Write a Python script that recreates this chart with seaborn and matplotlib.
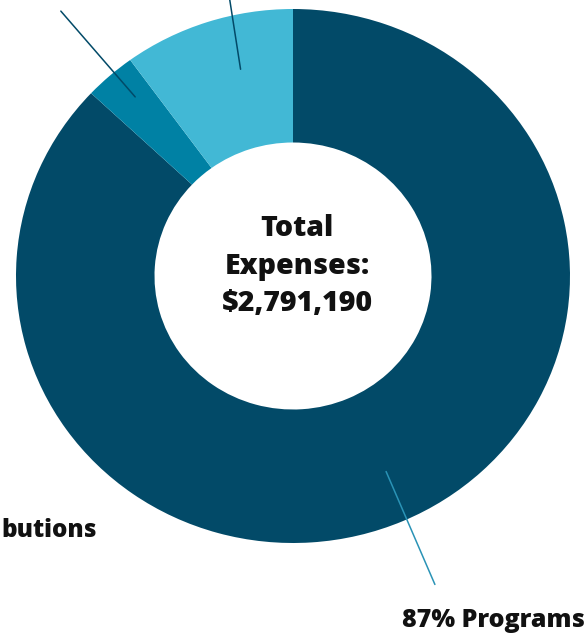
import matplotlib
matplotlib.use("Agg")
import matplotlib.pyplot as plt
import seaborn as sns

# ---- data ----
categories = ["Programs", "Fundraising", "Administration"]
values = [87, 3, 10]
colors = ["#024a68", "#0081a4", "#42b8d5"]
center_lines = ["Total", "Expenses:", "$2,791,190"]
programs_label = "87% Programs"
contrib_label = "butions"

sns.set_theme(style="white")
plt.rcParams["font.family"] = ["Open Sans", "DejaVu Sans"]

W, H = 588, 633
fig = plt.figure(figsize=(W / 100, H / 100), dpi=100)
ax = fig.add_axes([0, 0, 1, 1])

cx, cy = 293, 276          # pixel centre (y from top)
rx, ry = 277, 267          # pixel radii (slightly stretched)
ax.pie(values, colors=colors, startangle=90, counterclock=False,
       radius=1, center=(0, 0),
       wedgeprops=dict(width=0.5, edgecolor="none", linewidth=0))
ax.set_xlim(-cx / rx, (W - cx) / rx)
ax.set_ylim(-(H - cy) / ry, cy / ry)
ax.set_aspect("auto")
ax.axis("off")

def px(x, y):
    return (x, H - y)

navy = "#024a68"
ax.annotate("", xy=px(385, 469), xycoords="figure pixels",
            xytext=px(436, 587), textcoords="figure pixels",
            arrowprops=dict(arrowstyle="-", color="#2a93b6", lw=1.1))
ax.annotate("", xy=px(137, 99), xycoords="figure pixels",
            xytext=px(59, 9), textcoords="figure pixels",
            arrowprops=dict(arrowstyle="-", color=navy, lw=1.1))
ax.annotate("", xy=px(241, 72), xycoords="figure pixels",
            xytext=px(229, -5), textcoords="figure pixels",
            arrowprops=dict(arrowstyle="-", color=navy, lw=1.1))

fp = dict(fontweight=800, color="#111111")
for line, base in zip(center_lines, [235.7, 274, 310.7]):
    fig.text(297 / W, 1 - base / H, line, ha="center", va="baseline",
             fontsize=20.5, **fp)

fig.text(402 / W, 1 - 626.7 / H, programs_label, ha="left", va="baseline",
         fontsize=18, **fp)
fig.text(1 / W, 1 - 537.3 / H, contrib_label, ha="left", va="baseline",
         fontsize=17.5, **fp)

fig.savefig("out.png", dpi=100, facecolor="white")
